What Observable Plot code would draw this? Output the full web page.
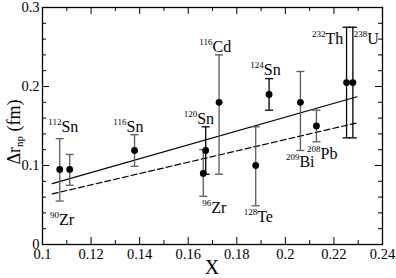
<!DOCTYPE html>
<html>
<head>
<meta charset="utf-8">
<script src="https://cdn.jsdelivr.net/npm/d3@7"></script>
<script src="https://cdn.jsdelivr.net/npm/@observablehq/plot@0.6"></script>
<style>
  html, body { margin: 0; padding: 0; background: white; }
</style>
</head>
<body>
<div id="chart"></div>
<script>
// ---- data ----
const names      = ["90Zr", "112Sn", "116Sn", "96Zr", "120Sn", "116Cd", "128Te", "124Sn", "209Bi", "208Pb", "232Th", "238U"];
const xValues    = [0.1071, 0.1112, 0.1379, 0.1662, 0.1672, 0.1727, 0.1878, 0.1933, 0.2062, 0.2128, 0.2252, 0.2278];
const yValues    = [0.095, 0.095, 0.119, 0.090, 0.119, 0.180, 0.100, 0.190, 0.180, 0.150, 0.205, 0.205];
const yLow       = [0.055, 0.075, 0.099, 0.061, 0.089, 0.089, 0.049, 0.170, 0.119, 0.130, 0.135, 0.135];
const yHigh      = [0.134, 0.114, 0.139, 0.120, 0.149, 0.240, 0.149, 0.210, 0.219, 0.170, 0.275, 0.275];
const method     = ["A", "A", "A", "A", "B", "A", "A", "B", "A", "A", "B", "B"];

// labels (mass number as superscript + element symbol), anchored in data units
const labelMass   = ["90", "112", "116", "96", "120", "116", "128", "124", "209", "208", "232", "238"];
const labelSymbol = ["Zr", "Sn", "Sn", "Zr", "Sn", "Cd", "Te", "Sn", "Bi", "Pb", "Th", "U"];
const labelX      = [0.1068, 0.1078, 0.1346, 0.1695, 0.1637, 0.1700, 0.1884, 0.1911, 0.2058, 0.2145, 0.2165, 0.2337];
const labelY      = [0.0253, 0.1418, 0.1430, 0.0400, 0.1530, 0.2440, 0.0280, 0.2140, 0.0987, 0.1085, 0.2540, 0.2540];

// fit lines
const fitX      = [0.104, 0.2295];
const fitSolid  = [0.077, 0.1870];
const fitDashed = [0.064, 0.1540];

// ticks
const xMajor = [0.1, 0.12, 0.14, 0.16, 0.18, 0.2, 0.22, 0.24];
const xMinor = [0.11, 0.13, 0.15, 0.17, 0.19, 0.21, 0.23];
const yMajor = [0, 0.1, 0.2, 0.3];
const yMinor = [0.02, 0.04, 0.06, 0.08, 0.12, 0.14, 0.16, 0.18, 0.22, 0.24, 0.26, 0.28];

// ---- build ----
const rows = names.map((n, i) => ({
  name: n, x: xValues[i], y: yValues[i], lo: yLow[i], hi: yHigh[i], method: method[i]
}));
const labels = labelSymbol.map((s, i) => ({ sym: s, mass: labelMass[i], x: labelX[i], y: labelY[i] }));
const fits = fitX.map((x, i) => ({ x, solid: fitSolid[i], dashed: fitDashed[i] }));

const W = 396, H = 278, mL = 42, mR = 14, mT = 7, mB = 34;
const innerW = W - mL - mR, innerH = H - mT - mB;
const major = 7, minor = 4;
const serif = "Liberation Serif";

const capSymbol = {
  draw(ctx, size) {
    const w = Math.sqrt(size / Math.PI);
    ctx.moveTo(-w, 0);
    ctx.lineTo(w, 0);
  }
};

const chart = Plot.plot({
  width: W, height: H,
  marginLeft: mL, marginRight: mR, marginTop: mT, marginBottom: mB,
  style: { fontFamily: serif, fontSize: "15px", background: "white", color: "black" },
  x: { domain: [0.1, 0.24] },
  y: { domain: [0, 0.3] },
  color: { domain: ["A", "B"], range: ["#5a5a5a", "#000000"] },
  marks: [
    // tick marks pointing inward on all four sides
    Plot.ruleX(xMajor, { insetTop: innerH - major, stroke: "black" }),
    Plot.ruleX(xMinor, { insetTop: innerH - minor, stroke: "black" }),
    Plot.ruleX(xMajor, { insetBottom: innerH - major, stroke: "black" }),
    Plot.ruleX(xMinor, { insetBottom: innerH - minor, stroke: "black" }),
    Plot.ruleY(yMajor, { insetRight: innerW - major, stroke: "black" }),
    Plot.ruleY(yMinor, { insetRight: innerW - minor, stroke: "black" }),
    Plot.ruleY(yMajor, { insetLeft: innerW - major, stroke: "black" }),
    Plot.ruleY(yMinor, { insetLeft: innerW - minor, stroke: "black" }),
    Plot.axisX({ ticks: xMajor, tickSize: 0, tickPadding: 4, tickFormat: d => String(d), label: null, fontSize: 14.5 }),
    Plot.axisY({ ticks: yMajor, tickSize: 0, tickPadding: 3, tickFormat: d => String(d), label: null, fontSize: 14.5 }),
    // fits
    Plot.line(fits, { x: "x", y: "solid", stroke: "black", strokeWidth: 1.2 }),
    Plot.line(fits, { x: "x", y: "dashed", stroke: "black", strokeWidth: 1.2, strokeDasharray: "6,3" }),
    // error bars
    Plot.ruleX(rows, { x: "x", y1: "lo", y2: "hi", stroke: "method", strokeWidth: 1.3 }),
    Plot.dot(rows, { x: "x", y: "hi", symbol: capSymbol, r: 4, stroke: "method", strokeWidth: 1.3, fill: "none" }),
    Plot.dot(rows, { x: "x", y: "lo", symbol: capSymbol, r: 4, stroke: "method", strokeWidth: 1.3, fill: "none" }),
    // points
    Plot.dot(rows, { x: "x", y: "y", r: 3.4, fill: "black", stroke: "none" }),
    // labels
    Plot.text(labels, { x: "x", y: "y", text: "sym", textAnchor: "start", lineAnchor: "bottom", fontSize: 16, fill: "black" }),
    Plot.text(labels, { x: "x", y: "y", text: "mass", textAnchor: "end", lineAnchor: "bottom", dy: -7, fontSize: 9, fill: "black" }),
    Plot.frame({ stroke: "black", strokeWidth: 1.3 })
  ]
});

// axis titles
const svg = d3.select(chart);
svg.append("text")
  .attr("x", (mL + W - mR) / 2).attr("y", 274)
  .attr("text-anchor", "middle")
  .attr("font-size", 20)
  .text("X");
const yl = svg.append("text")
  .attr("transform", `translate(20,132) rotate(-90)`)
  .attr("text-anchor", "middle")
  .attr("font-size", 18);
yl.append("tspan").text("Δr");
yl.append("tspan").attr("font-size", 11).attr("dy", 3).text("np");
yl.append("tspan").attr("dy", -3).text(" (fm)");

document.getElementById("chart").appendChild(chart);
</script>
</body>
</html>
